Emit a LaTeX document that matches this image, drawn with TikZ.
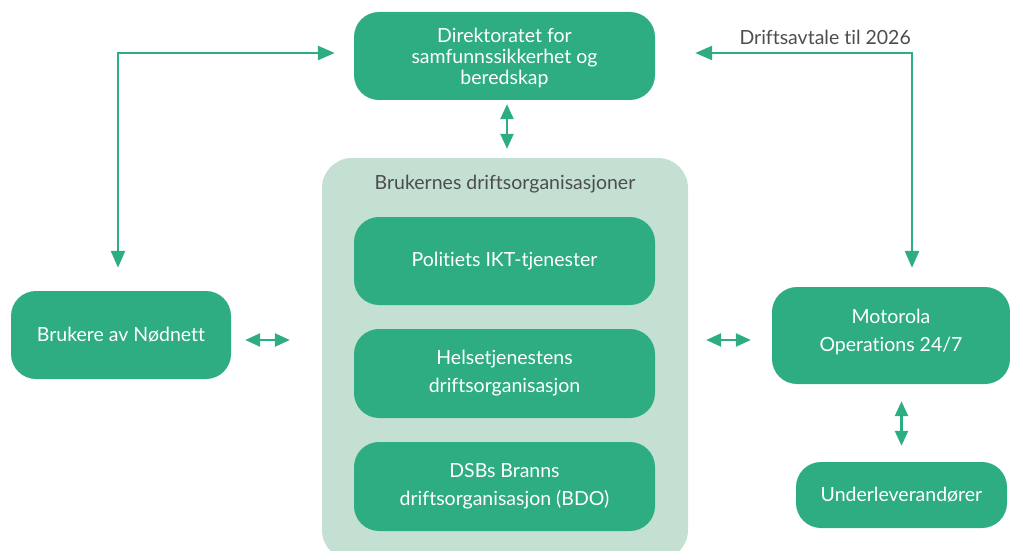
\documentclass[tikz,border=0pt]{standalone}
\usepackage{fontspec}
\setmainfont{Lato}[Ligatures=NoCommon]
\usetikzlibrary{arrows.meta,calc}
\definecolor{dg}{RGB}{46,172,130}
\definecolor{lg}{RGB}{196,224,210}
\definecolor{tg}{RGB}{77,77,77}
\begin{document}
\begin{tikzpicture}[x=1pt,y=-1pt,
  box/.style={draw=none,fill=dg,rounded corners=25pt,text=white,align=center,inner sep=0pt,
    font=\fontsize{19.5}{28}\selectfont},
  boxtext/.style={text=white,align=center,inner sep=0pt,font=\fontsize{19.5}{28}\selectfont},
  longarr/.style={draw=dg,line width=2.5pt,{Triangle[length=17pt,width=14pt]}-{Triangle[length=17pt,width=14pt]}},
  dbl/.style={draw=dg,line width=2.5pt,{Triangle[length=15pt,width=13pt]}-{Triangle[length=15pt,width=13pt]}}]
\clip (0,0) rectangle (1010,551);
\node[fill=lg,rounded corners=30pt,minimum width=366pt,minimum height=402pt,inner sep=0pt] (outer) at (505,359) {};
\node[text=tg,font=\fontsize{19.5}{24}\selectfont] (otitle) at (505,184) {Brukernes driftsorganisasjoner};
\node[box,minimum width=301pt,minimum height=88pt] (dir) at (504.5,56) {};
\node[boxtext,font=\fontsize{19.5}{21}\selectfont] (dirT) at (504.5,58) {Direktoratet for\\samfunnssikkerhet og\\beredskap};
\node[box,minimum width=301pt,minimum height=88pt] (pol) at (504.5,261) {Politiets IKT-tjenester};
\node[box,minimum width=301pt,minimum height=89pt] (hel) at (504.5,373.5) {Helsetjenestens\\driftsorganisasjon};
\node[box,minimum width=301pt,minimum height=89pt] (dsb) at (504.5,486.5) {DSBs Branns\\driftsorganisasjon (BDO)};
\node[box,minimum width=220pt,minimum height=88pt] (bruk) at (121,335) {Brukere av Nødnett};
\node[box,minimum width=238pt,minimum height=97pt] (mot) at (891,335.5) {};
\node[boxtext] (motT) at (891,331.5) {Motorola\\Operations 24/7};
\node[box,minimum width=211pt,minimum height=66pt] (und) at (901.5,495) {Underleverandører};
% long connectors
\draw[longarr] ([xshift=-19pt,yshift=3pt]dir.west) -| ([xshift=-3pt,yshift=23pt]bruk.north);
\coordinate (rc) at (912,53);
\draw[longarr] ([xshift=40pt,yshift=3pt]dir.east) -- (rc) -- ([xshift=21pt,yshift=19pt]mot.north);
\node[anchor=base east,text=tg,font=\fontsize{19.5}{24}\selectfont,inner sep=0pt] (lbl) at ([xshift=-1pt,yshift=8pt]rc) {Driftsavtale til 2026};
% short double arrows
\draw[dbl,shorten <=4pt,shorten >=9pt] ([xshift=2.5pt]dir.south) -- ([xshift=2.5pt]dir.south |- outer.north);
\coordinate (ly) at ([yshift=-5pt]bruk.east);
\draw[dbl,shorten <=14pt,shorten >=32pt] (ly) -- (ly -| outer.west);
\draw[dbl,shorten <=18pt,shorten >=21pt] (outer.east |- ly) -- (mot.west |- ly);
\draw[dbl,shorten <=17pt,shorten >=16pt] (und.north |- mot.south) -- (und.north);
\end{tikzpicture}
\end{document}
